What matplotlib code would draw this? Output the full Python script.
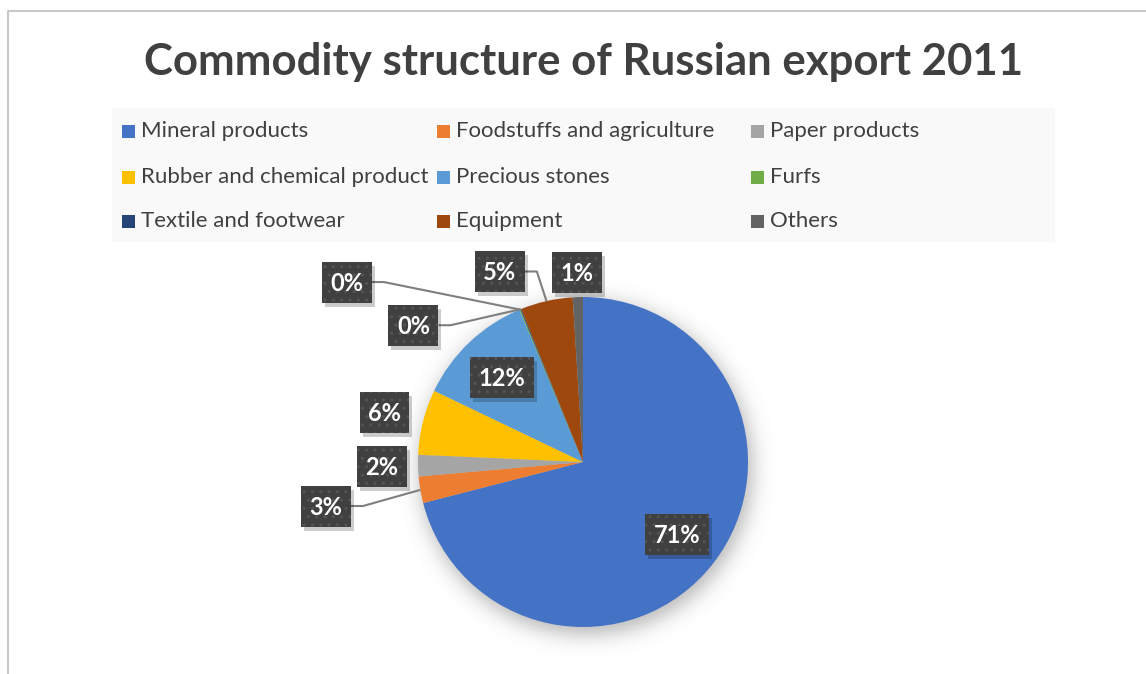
import numpy as np
import matplotlib.pyplot as plt
from matplotlib.patches import Rectangle

plt.rcParams['font.family'] = ['Lato', 'DejaVu Sans']

title = 'Commodity structure of Russian export 2011'
categories = ['Mineral products', 'Foodstuffs and agriculture', 'Paper products',
              'Rubber and chemical product', 'Precious stones', 'Furfs',
              'Textile and footwear', 'Equipment', 'Others']
shares = [71.0, 2.6, 2.1, 6.4, 11.6, 0.1, 0.1, 5.1, 1.0]
colors = ['#4472C4', '#ED7D31', '#A5A5A5', '#FFC000', '#5B9BD5', '#70AD47',
          '#264478', '#9E480E', '#636363']

# label layout: angle (deg, clockwise from 12 o'clock; None = slice middle),
# distance from centre in radii, and whether a leader line is drawn
label_angle = [None, None, None, None, None, 307.3, 308.9, 336.4, None]
label_dist = [0.72, 1.58, 1.22, 1.24, 0.71, 1.80, 1.32, 1.26, 1.15]
label_leader = [False, True, False, False, False, True, True, True, False]

W, H = 1146, 674
fig = plt.figure(figsize=(W / 100, H / 100), dpi=100)
ax = fig.add_axes([0, 0, 1, 1])
ax.set_xlim(0, W)
ax.set_ylim(0, H)

cx, cy, r = 583, H - 462, 165

# soft drop shadow under the pie
xs = np.arange(cx - 230, cx + 230)
ys = np.arange(cy - 230, cy + 230)
gx, gy = np.meshgrid(xs, ys)
d = np.hypot(gx - (cx + 3), gy - (cy - 6))
alpha = 0.28 / (1 + np.exp((d - (r + 2)) / 6.0))
shadow = np.zeros(gx.shape + (4,))
shadow[..., 3] = alpha
ax.imshow(shadow, extent=(xs[0], xs[-1], ys[0], ys[-1]), origin='lower',
          zorder=1, interpolation='bilinear')

wedges, _ = ax.pie(shares, colors=colors, startangle=90, counterclock=False,
                   center=(cx, cy), radius=r, frame=True,
                   wedgeprops=dict(linewidth=0, zorder=2))

# percentage labels
total = sum(shares)
start = 0.0
labels = []
for i, s in enumerate(shares):
    span = s / total * 360
    mid = start + span / 2
    start += span
    a = mid if label_angle[i] is None else label_angle[i]
    lx = cx + label_dist[i] * r * np.sin(np.radians(a))
    ly = cy + label_dist[i] * r * np.cos(np.radians(a))
    txt = f'{round(s):.0f}%'
    t = ax.text(lx, ly - 8.5, txt, fontsize=17, fontweight='bold', color='white',
                ha='center', va='baseline', zorder=5)
    labels.append((t, lx, ly, mid, label_leader[i]))

fig.canvas.draw()
for t, lx, ly, mid, leader in labels:
    bb = t.get_window_extent()
    bw, bh = bb.width + 17, 41
    ax.add_patch(Rectangle((lx - bw / 2 + 3, ly - bh / 2 - 4), bw, bh,
                           fc='black', ec='none', alpha=0.2, zorder=3.5))
    ax.add_patch(Rectangle((lx - bw / 2, ly - bh / 2), bw, bh, fc='#404040',
                           ec='#545454', lw=0, hatch='..', zorder=4))
    if leader:
        px = cx + r * np.sin(np.radians(mid))
        py = cy + r * np.cos(np.radians(mid))
        ax.plot([lx + bw / 2, lx + bw / 2 + 12, px], [ly, ly, py],
                color='#7F7F7F', lw=1.5, zorder=3, solid_capstyle='butt')

# title
ax.text(584, H - 62, title, fontsize=31.5, fontweight='bold', color='#404040',
        ha='center', va='center')

# legend
ax.add_patch(Rectangle((112, H - 242), 943, 134, fc='#F9F9F9', ec='none', zorder=0))
col_x = [122, 437, 751]
row_y = [131, 177, 221]
for i, name in enumerate(categories):
    x0 = col_x[i % 3]
    y0 = H - row_y[i // 3]
    ax.add_patch(Rectangle((x0, y0 - 6.5), 13, 13, fc=colors[i], ec='none'))
    ax.text(x0 + 19, y0, name, fontsize=16, color='#404040', ha='left', va='center')

# chart frame
ax.plot([8, 8, W], [0, H - 11, H - 11], color='#C8C8C8', lw=1.5)

ax.set_xlim(0, W)
ax.set_ylim(0, H)
ax.set_aspect('auto')
ax.axis('off')

fig.savefig('out.png', dpi=100)
